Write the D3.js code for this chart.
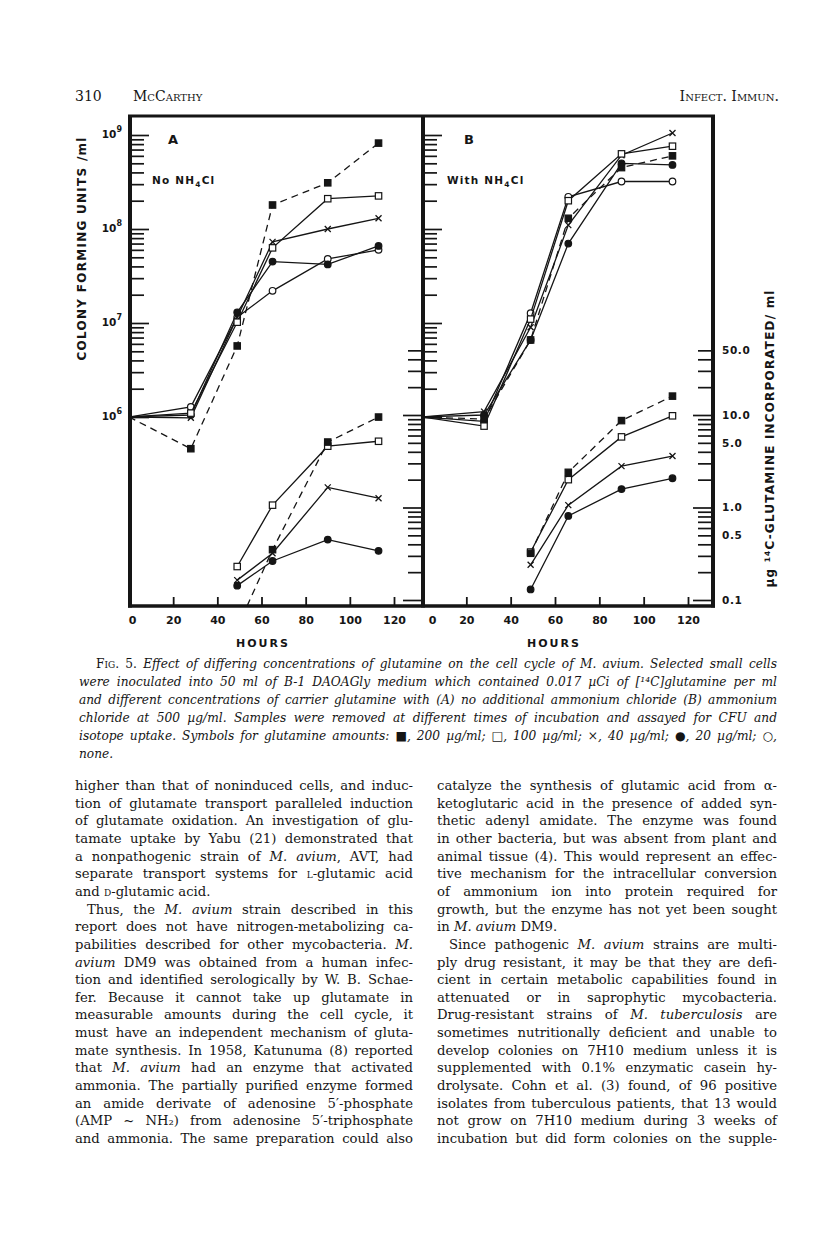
<!DOCTYPE html>
<html>
<head>
<meta charset="utf-8">
<script src="https://cdn.jsdelivr.net/npm/d3@7"></script>
<style>
  body { margin: 0; background: #fff; }
  svg text { fill: #151515; }
</style>
</head>
<body>
<svg id="page" width="816" height="1253"></svg>
<script>
// ---- data ----
// hours of sampling
const hoursA = [0, 28, 49, 65, 90, 113];
const hoursB = [0, 28, 49, 66, 90, 113];
const hoursUptakeA = [49, 65, 90, 113];
const hoursUptakeB = [49, 66, 90, 113];

// panel A, CFU/ml (no NH4Cl)
const cfuA200 = [1e6, 4.6e5, 5.7e6, 1.8e8, 3.1e8, 8.2e8];
const cfuA100 = [1e6, 1.1e6, 1.02e7, 6.3e7, 2.1e8, 2.25e8];
const cfuA40  = [1e6, 0.98e6, 1.15e7, 7.3e7, 1.0e8, 1.3e8];
const cfuA20  = [1e6, 1.05e6, 1.3e7, 4.5e7, 4.2e7, 6.6e7];
const cfuA0   = [1e6, 1.28e6, 1.15e7, 2.2e7, 4.8e7, 6.0e7];

// panel A, ug 14C-glutamine incorporated/ml
const upA200 = [0.05, 0.35, 5.1, 9.5];
const upA100 = [0.23, 1.06, 4.6, 5.2];
const upA40  = [0.164, 0.32, 1.65, 1.26];
const upA20  = [0.143, 0.264, 0.45, 0.34];

// panel B, CFU/ml (with NH4Cl)
const cfuB200 = [1e6, 0.95e6, 6.6e6, 1.3e8, 4.5e8, 6.0e8];
const cfuB100 = [1e6, 0.8e6, 1.1e7, 2.0e8, 6.3e8, 7.6e8];
const cfuB40  = [1e6, 1.14e6, 9e6, 1.1e8, 6.1e8, 1.05e9];
const cfuB20  = [1e6, 1.05e6, 6.6e6, 7e7, 5e8, 4.8e8];
const cfuB0   = [1e6, 0.9e6, 1.27e7, 2.2e8, 3.2e8, 3.2e8];

// panel B, ug 14C-glutamine incorporated/ml
const upB200 = [0.32, 2.4, 8.7, 16];
const upB100 = [0.33, 2.0, 5.8, 9.8];
const upB40  = [0.24, 1.06, 2.8, 3.6];
const upB20  = [0.13, 0.81, 1.58, 2.07];

// tick values / labels
const hourTicks = [0, 20, 40, 60, 80, 100, 120];
const cfuDecades = [1e6, 1e7, 1e8, 1e9];
const cfuLabels = ["6", "7", "8", "9"];
const uptakeLabels = [0.1, 0.5, 1, 5, 10, 50];

// ---- text ----
const header = { page: "310", author: "McCarthy", journal: "Infect. Immun." };
const captionLines = [
  "^Fig. 5.^ Effect of differing concentrations of glutamine on the cell cycle of M. avium. Selected small cells",
  "were inoculated into 50 ml of B-1 DAOAGly medium which contained 0.017 µCi of [¹⁴C]glutamine per ml",
  "and different concentrations of carrier glutamine with (A) no additional ammonium chloride (B) ammonium",
  "chloride at 500 µg/ml. Samples were removed at different times of incubation and assayed for CFU and",
  "isotope uptake. Symbols for glutamine amounts: ■, 200 µg/ml; □, 100 µg/ml; ×, 40 µg/ml; ●, 20 µg/ml; ○,",
  "none."
];
const bodyLeft = [
  "higher than that of noninduced cells, and induc-",
  "tion of glutamate transport paralleled induction",
  "of glutamate oxidation. An investigation of glu-",
  "tamate uptake by Yabu (21) demonstrated that",
  "a nonpathogenic strain of _M. avium_, AVT, had",
  "separate transport systems for ^l^-glutamic acid",
  "and ^d^-glutamic acid.",
  ">Thus, the _M. avium_ strain described in this",
  "report does not have nitrogen-metabolizing ca-",
  "pabilities described for other mycobacteria. _M._",
  "_avium_ DM9 was obtained from a human infec-",
  "tion and identified serologically by W. B. Schae-",
  "fer. Because it cannot take up glutamate in",
  "measurable amounts during the cell cycle, it",
  "must have an independent mechanism of gluta-",
  "mate synthesis. In 1958, Katunuma (8) reported",
  "that _M. avium_ had an enzyme that activated",
  "ammonia. The partially purified enzyme formed",
  "an amide derivate of adenosine 5′-phosphate",
  "(AMP ~ NH₂) from adenosine 5′-triphosphate",
  "and ammonia. The same preparation could also"
];
const bodyRight = [
  "catalyze the synthesis of glutamic acid from α-",
  "ketoglutaric acid in the presence of added syn-",
  "thetic adenyl amidate. The enzyme was found",
  "in other bacteria, but was absent from plant and",
  "animal tissue (4). This would represent an effec-",
  "tive mechanism for the intracellular conversion",
  "of ammonium ion into protein required for",
  "growth, but the enzyme has not yet been sought",
  "in _M. avium_ DM9.",
  ">Since pathogenic _M. avium_ strains are multi-",
  "ply drug resistant, it may be that they are defi-",
  "cient in certain metabolic capabilities found in",
  "attenuated or in saprophytic mycobacteria.",
  "Drug-resistant strains of _M. tuberculosis_ are",
  "sometimes nutritionally deficient and unable to",
  "develop colonies on 7H10 medium unless it is",
  "supplemented with 0.1% enzymatic casein hy-",
  "drolysate. Cohn et al. (3) found, of 96 positive",
  "isolates from tuberculous patients, that 13 would",
  "not grow on 7H10 medium during 3 weeks of",
  "incubation but did form colonies on the supple-"
];
const paraEnds = ["and ^d^-glutamic acid.", "in _M. avium_ DM9.", "none."];

// ---- setup ----
const ink = "#151515";
const figFont = "'DejaVu Sans', sans-serif";
const serif = "'DejaVu Serif', serif";
const svg = d3.select("#page");
svg.append("rect").attr("width", 816).attr("height", 1253).attr("fill", "#fff");

const xA = d3.scaleLinear().domain([0, 120]).range([129, 394]);
const xB = d3.scaleLinear().domain([0, 120]).range([422, 688]);
const yCfu = d3.scaleLog().domain([1e6, 1e9]).range([417, 135]);
const yUp = d3.scaleLog().domain([0.1, 10]).range([600, 415]);

const frame = { top: 116, bottom: 606, left: 130, mid: 423, right: 713 };

// log tick positions
const cfuMinor = [];
[1e6, 1e7, 1e8].forEach(d => { for (let m = 2; m <= 9; m++) cfuMinor.push(m * d); });
const upMajor = [0.1, 1, 10];
const upMinor = [];
[0.1, 1].forEach(d => { for (let m = 2; m <= 9; m++) upMinor.push(+(m * d).toFixed(2)); });
[20, 30, 40, 50].forEach(v => upMinor.push(v));

const defs = svg.append("defs");
defs.append("clipPath").attr("id", "clipA").append("rect")
  .attr("x", frame.left).attr("y", frame.top).attr("width", frame.mid - frame.left).attr("height", frame.bottom - frame.top);
defs.append("clipPath").attr("id", "clipB").append("rect")
  .attr("x", frame.mid).attr("y", frame.top).attr("width", frame.right - frame.mid).attr("height", frame.bottom - frame.top);

function tickAxis(axis, x, vals, size) {
  const g = svg.append("g").attr("transform", `translate(${x},0)`)
    .call(axis.tickValues(vals).tickSize(size).tickFormat(""));
  g.select(".domain").remove();
  g.selectAll(".tick line").attr("stroke", ink).attr("stroke-width", 1.7);
  return g;
}

// CFU ticks (pointing right) on A left and B left
[frame.left, frame.mid].forEach(x => {
  tickAxis(d3.axisRight(yCfu), x, cfuDecades, 19);
  tickAxis(d3.axisRight(yCfu), x, cfuMinor, 14);
});
// uptake ticks (pointing left) on A right and B right
[frame.mid, frame.right].forEach(x => {
  tickAxis(d3.axisLeft(yUp), x, upMajor, 20);
  tickAxis(d3.axisLeft(yUp), x, upMinor, 15);
});

// bottom axes
function hourAxis(x, labelShift) {
  const g = svg.append("g").attr("transform", `translate(0,${frame.bottom})`)
    .call(d3.axisBottom(x).tickValues(hourTicks).tickSize(-9).tickPadding(10));
  g.select(".domain").remove();
  g.selectAll(".tick line").attr("stroke", ink).attr("stroke-width", 1.8);
  g.selectAll(".tick text").attr("font-family", figFont).attr("font-weight", "bold")
    .attr("font-size", 11).attr("fill", ink);
  g.selectAll(".tick").filter(d => d === 0).select("text").attr("dx", labelShift);
}
hourAxis(xA, 3);
hourAxis(xB, 10);

// frame
const fr = svg.append("g").attr("stroke", ink).attr("fill", "none");
fr.append("line").attr("x1", frame.left - 2).attr("x2", frame.right + 2).attr("y1", frame.top).attr("y2", frame.top).attr("stroke-width", 3);
fr.append("line").attr("x1", frame.left - 2).attr("x2", frame.right + 2).attr("y1", frame.bottom).attr("y2", frame.bottom).attr("stroke-width", 3.5);
[frame.left, frame.mid, frame.right].forEach(x =>
  fr.append("line").attr("x1", x).attr("x2", x).attr("y1", frame.top - 1).attr("y2", frame.bottom + 1.5).attr("stroke-width", 4));

// CFU decade labels
const cfuLab = svg.append("g").attr("font-family", figFont).attr("font-weight", "bold").attr("fill", ink);
cfuDecades.forEach((d, i) => {
  const t = cfuLab.append("text").attr("x", 122).attr("y", yCfu(d) + 3).attr("text-anchor", "end").attr("font-size", 10.5);
  t.append("tspan").text("10");
  t.append("tspan").attr("dy", -6).attr("font-size", 8).text(cfuLabels[i]);
});

// uptake labels on right
const upG = svg.append("g").attr("transform", `translate(${frame.right},0)`)
  .call(d3.axisRight(yUp).tickValues(uptakeLabels).tickSize(0).tickPadding(9).tickFormat(d3.format(".1f")));
upG.select(".domain").remove();
upG.selectAll(".tick text").attr("font-family", figFont).attr("font-weight", "bold")
  .attr("font-size", 10.5).attr("letter-spacing", 0.6).attr("fill", ink);

// ---- series ----
const symbols = { g200: "fsquare", g100: "osquare", g40: "cross", g20: "fcircle", none: "ocircle" };

function drawSeries(x, y, hours, values, key, clipId) {
  const g = svg.append("g").attr("clip-path", `url(#${clipId})`);
  const line = d3.line().x((d, i) => x(hours[i])).y(d => y(d));
  g.append("path").datum(values).attr("d", line).attr("fill", "none")
    .attr("stroke", ink).attr("stroke-width", 1.3)
    .attr("stroke-dasharray", key === "g200" ? "7,5" : null);
  const pts = values.map((v, i) => ({ h: hours[i], v })).filter(p => p.h > 0);
  const sym = symbols[key];
  pts.forEach(p => {
    const cx = x(p.h), cy = y(p.v);
    if (sym === "fsquare" || sym === "osquare") {
      g.append("rect").attr("x", cx - 3.2).attr("y", cy - 3.2).attr("width", 6.4).attr("height", 6.4)
        .attr("fill", sym === "fsquare" ? ink : "#fff").attr("stroke", ink).attr("stroke-width", 1.2);
    } else if (sym === "cross") {
      g.append("path").attr("d", `M${cx - 3},${cy - 3}L${cx + 3},${cy + 3}M${cx - 3},${cy + 3}L${cx + 3},${cy - 3}`)
        .attr("stroke", ink).attr("stroke-width", 1.3);
    } else {
      g.append("circle").attr("cx", cx).attr("cy", cy).attr("r", 3.3)
        .attr("fill", sym === "fcircle" ? ink : "#fff").attr("stroke", ink).attr("stroke-width", 1.2);
    }
  });
}

const cfuSeriesA = [["none", cfuA0], ["g20", cfuA20], ["g40", cfuA40], ["g100", cfuA100], ["g200", cfuA200]];
const cfuSeriesB = [["none", cfuB0], ["g20", cfuB20], ["g40", cfuB40], ["g100", cfuB100], ["g200", cfuB200]];
const upSeriesA = [["g20", upA20], ["g40", upA40], ["g100", upA100], ["g200", upA200]];
const upSeriesB = [["g20", upB20], ["g40", upB40], ["g100", upB100], ["g200", upB200]];

cfuSeriesA.forEach(([k, v]) => drawSeries(xA, yCfu, hoursA, v, k, "clipA"));
upSeriesA.forEach(([k, v]) => drawSeries(xA, yUp, hoursUptakeA, v, k, "clipA"));
cfuSeriesB.forEach(([k, v]) => drawSeries(xB, yCfu, hoursB, v, k, "clipB"));
upSeriesB.forEach(([k, v]) => drawSeries(xB, yUp, hoursUptakeB, v, k, "clipB"));

// ---- figure labels ----
const lab = svg.append("g").attr("font-family", figFont).attr("font-weight", "bold").attr("fill", ink);
lab.append("text").attr("x", 168).attr("y", 144).attr("font-size", 13).text("A");
lab.append("text").attr("x", 464).attr("y", 144).attr("font-size", 13).text("B");

function nh4(x, y, prefix) {
  const t = lab.append("text").attr("x", x).attr("y", y).attr("font-size", 10.5).attr("letter-spacing", 1.2);
  t.append("tspan").text(prefix + " NH");
  t.append("tspan").attr("dy", 3).attr("font-size", 7.5).text("4");
  t.append("tspan").attr("dy", -3).text("Cl");
}
nh4(152, 184, "No");
nh4(447, 184, "With");

lab.append("text").attr("x", 263).attr("y", 647).attr("text-anchor", "middle")
  .attr("font-size", 11).attr("letter-spacing", 2).text("HOURS");
lab.append("text").attr("x", 554).attr("y", 647).attr("text-anchor", "middle")
  .attr("font-size", 11).attr("letter-spacing", 2).text("HOURS");

lab.append("text").attr("transform", "translate(86,249) rotate(-90)").attr("text-anchor", "middle")
  .attr("font-size", 12).attr("textLength", 223).attr("lengthAdjust", "spacing")
  .text("COLONY FORMING UNITS /ml");

const rt = lab.append("text").attr("transform", "translate(774,439) rotate(-90)").attr("text-anchor", "middle")
  .attr("font-size", 12).attr("textLength", 297).attr("lengthAdjust", "spacing");
rt.append("tspan").text("µg ");
rt.append("tspan").attr("dy", -4).attr("font-size", 7.5).text("14");
rt.append("tspan").attr("dy", 4).text("C-GLUTAMINE INCORPORATED/ ml");

// ---- page text ----
function richText(sel, str, baseItalic) {
  const parts = str.split(/(_[^_]+_|\^[^^]+\^)/).filter(s => s.length);
  parts.forEach(p => {
    const ts = sel.append("tspan");
    if (p[0] === "_") ts.attr("font-style", "italic").text(p.slice(1, -1));
    else if (p[0] === "^") ts.attr("font-style", "normal").attr("font-variant", "small-caps").text(p.slice(1, -1));
    else ts.attr("font-style", baseItalic ? "italic" : "normal").text(p);
  });
}

function textLine(x, y, width, str, opts) {
  const indent = str[0] === ">";
  const s = indent ? str.slice(1) : str;
  const x0 = x + (indent ? opts.indent : 0) + (opts.firstIndent || 0);
  const w = width - (x0 - x);
  const t = svg.append("text").attr("x", x0).attr("y", y)
    .attr("font-family", serif).attr("font-size", opts.size).attr("fill", ink);
  richText(t, s, opts.italic);
  const natural = t.node().getComputedTextLength();
  const spaces = (t.text().match(/ /g) || []).length;
  if (!paraEnds.includes(str.replace(/^>/, "")) && spaces) {
    t.style("word-spacing", ((w - natural) / spaces) + "px");
  }
  return t;
}

// header
svg.append("text").attr("x", 75).attr("y", 101).attr("font-family", serif).attr("font-size", 14).attr("fill", ink).text(header.page);
svg.append("text").attr("x", 133).attr("y", 101).attr("font-family", serif).attr("font-size", 14)
  .attr("font-variant", "small-caps").attr("fill", ink).text(header.author);
svg.append("text").attr("x", 779).attr("y", 101).attr("text-anchor", "end").attr("font-family", serif).attr("font-size", 14)
  .attr("font-variant", "small-caps").attr("fill", ink).text(header.journal);

// caption
captionLines.forEach((l, i) => {
  textLine(79, 668 + i * 18, 698, l, { size: 12.2, italic: true, indent: 0, firstIndent: i === 0 ? 17 : 0 });
});

// body columns
bodyLeft.forEach((l, i) => textLine(75, 790 + i * 17.65, 338, l, { size: 13.2, italic: false, indent: 12 }));
bodyRight.forEach((l, i) => textLine(437, 790 + i * 17.65, 340, l, { size: 13.2, italic: false, indent: 12 }));
</script>
</body>
</html>
